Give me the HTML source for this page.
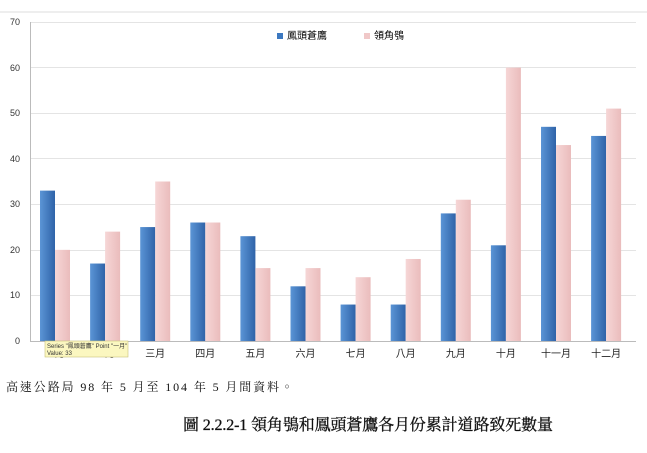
<!DOCTYPE html><html><head><meta charset="utf-8"><style>
body{margin:0;width:647px;height:453px;background:#fff;overflow:hidden;font-family:"Liberation Sans","Noto Sans CJK TC",sans-serif}
</style></head><body>
<svg width="647" height="453" xmlns="http://www.w3.org/2000/svg" style="position:absolute;left:0;top:0">
<defs>
<linearGradient id="b" x1="0" x2="1"><stop offset="0" stop-color="#5b95d6"/><stop offset="1" stop-color="#2f63a8"/></linearGradient>
<linearGradient id="p" x1="0" x2="1"><stop offset="0" stop-color="#f6d6d6"/><stop offset="1" stop-color="#eabcbc"/></linearGradient>
</defs>
<line x1="0" y1="12" x2="647" y2="12" stroke="#ddd"/>
<g stroke="#e4e4e4" stroke-width="1">
<line x1="30" x2="636" y1="22.5" y2="22.5"/><line x1="30" x2="636" y1="67.5" y2="67.5"/><line x1="30" x2="636" y1="113.5" y2="113.5"/><line x1="30" x2="636" y1="158.5" y2="158.5"/><line x1="30" x2="636" y1="204.5" y2="204.5"/><line x1="30" x2="636" y1="250.5" y2="250.5"/><line x1="30" x2="636" y1="295.5" y2="295.5"/>
</g>
<line x1="30.5" y1="22" x2="30.5" y2="341" stroke="#bbb"/>
<line x1="30" y1="341.5" x2="636" y2="341.5" stroke="#bbb"/>
<g font-size="9" fill="#333" text-anchor="end">
<text x="20" y="25">70</text><text x="20" y="71">60</text><text x="20" y="116">50</text><text x="20" y="162">40</text><text x="20" y="207">30</text><text x="20" y="253">20</text><text x="20" y="298">10</text><text x="20" y="344">0</text>
</g>
<g id="bars"></g>
<g font-size="10" fill="#222" text-anchor="middle" id="lab"></g>
<rect x="277" y="33" width="6" height="6" fill="#3c78c0"/><text x="287" y="39" font-size="10">鳳頭蒼鷹</text>
<rect x="364" y="33" width="6" height="6" fill="#f0c8c8"/><text x="374" y="39" font-size="10">領角鴞</text>
<rect x="45" y="341" width="83" height="16" fill="#fbf7c0" stroke="#c8c27a" stroke-width="0.6"/>
<text x="47" y="348" font-size="6" fill="#333">Series "鳳頭蒼鷹" Point "一月"</text>
<text x="47" y="355" font-size="6" fill="#333">Value: 33</text>
<text x="6" y="391" font-size="12" fill="#111" textLength="287" lengthAdjust="spacing" font-family="'Liberation Serif','Noto Serif CJK TC',serif">高速公路局 98 年 5 月至 104 年 5 月間資料。</text>
<text x="183" y="430" font-size="16" fill="#111" stroke="#111" stroke-width="0.3" textLength="370" lengthAdjust="spacing" font-family="'Liberation Serif','Noto Serif CJK TC',serif">圖 2.2.2-1 領角鴞和鳳頭蒼鷹各月份累計道路致死數量</text>
</svg>
<script>
var A=[33,17,25,26,23,12,8,8,28,21,47,45],B=[20,24,35,26,16,16,14,18,31,60,43,51],
M=["一月","二月","三月","四月","五月","六月","七月","八月","九月","十月","十一月","十二月"],s="",l="";
for(var i=0;i<12;i++){var c=55+i*50.1,k=4.557;
s+='<rect x="'+(c-15)+'" y="'+(341-A[i]*k)+'" width="15" height="'+A[i]*k+'" fill="url(#b)"/>';
s+='<rect x="'+c+'" y="'+(341-B[i]*k)+'" width="15" height="'+B[i]*k+'" fill="url(#p)"/>';
l+='<text x="'+c+'" y="357">'+M[i]+'</text>';}
document.getElementById("bars").innerHTML=s;document.getElementById("lab").innerHTML=l;
</script>
</body></html>
